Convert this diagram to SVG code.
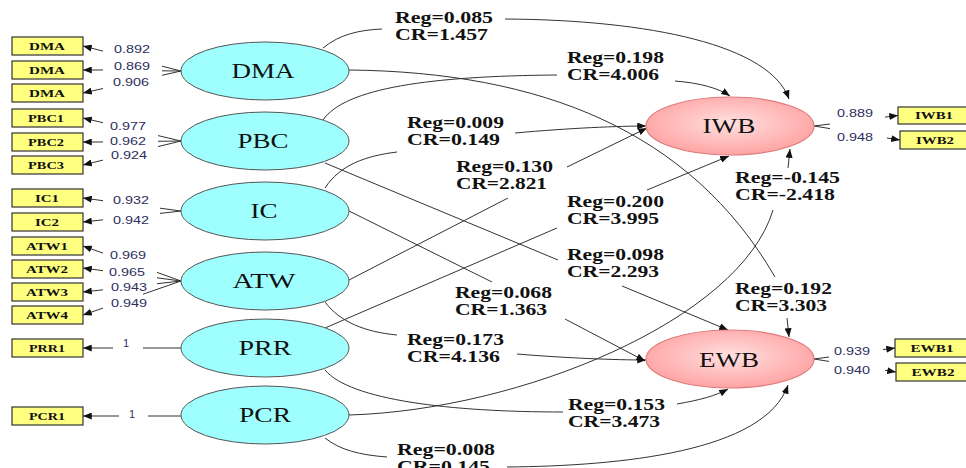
<svg xmlns="http://www.w3.org/2000/svg" width="966" height="468" viewBox="0 0 966 468">
<defs>
<marker id="ah" viewBox="0 0 10 8" refX="10" refY="4" markerWidth="9" markerHeight="7" markerUnits="userSpaceOnUse" orient="auto"><path d="M0,0 L10,4 L0,8 Z" fill="#111"/></marker>
<radialGradient id="pink" cx="50%" cy="45%" r="60%"><stop offset="0" stop-color="#FFE0E0"/><stop offset="1" stop-color="#FF9E9E"/></radialGradient>
</defs>
<style>
.lat{fill:#9FFFFF;stroke:#555;stroke-width:1}
.end{fill:url(#pink);stroke:#E07A7A;stroke-width:1.2}
.lt{font-family:"Liberation Serif","Times New Roman",serif;font-size:21px;fill:#111;text-anchor:middle}
.box{fill:#FFFF80;stroke:#333;stroke-width:1.2}
.bt{font-family:"Liberation Serif","Times New Roman",serif;font-weight:bold;font-size:10.5px;fill:#111;text-anchor:middle}
.ld{font-family:"Liberation Sans",Arial,sans-serif;font-size:11px;fill:#2E2E5E}
.rg{font-family:"Liberation Serif","Times New Roman",serif;font-weight:bold;font-size:16px;fill:#111}
.c{fill:none;stroke:#333;stroke-width:1}
.a{marker-end:url(#ah)}
</style>
<rect width="966" height="468" fill="#fff"/>

<g id="connectors">
<!-- measurement lines, left -->
<path class="c a" d="M103,51.1 L83,46"/><path class="c" d="M162,66.2 L181,71"/>
<path class="c a" d="M103,70 L83,70"/><path class="c" d="M162,70.8 L181,71"/>
<path class="c a" d="M103,88.5 L83,93"/><path class="c" d="M162,75.3 L181,71"/>
<path class="c a" d="M103,122.7 L83,118"/><path class="c" d="M158,135.6 L181,141"/>
<path class="c a" d="M103,142 L83,142"/><path class="c" d="M158,141.3 L181,141"/>
<path class="c a" d="M103,160.1 L83,165"/><path class="c" d="M158,146.6 L181,141"/>
<path class="c a" d="M103,200.7 L83,198"/><path class="c" d="M160,208.2 L181,211"/>
<path class="c a" d="M103,219.8 L83,222"/><path class="c" d="M160,213.4 L181,211"/>
<path class="c a" d="M103,253.1 L83,246"/><path class="c" d="M157,272.4 L181,281"/>
<path class="c a" d="M103,270.7 L83,268"/><path class="c" d="M157,277.8 L181,281"/>
<path class="c a" d="M103,289.8 L83,292"/><path class="c" d="M157,283.7 L181,281"/>
<path class="c a" d="M103,308.1 L83,315"/><path class="c" d="M143,294.2 L181,281"/>
<path class="c a" d="M113,348 L83,348"/><path class="c" d="M143,348 L181,348"/>
<path class="c a" d="M119,416 L83,416"/><path class="c" d="M148,416 L181,416"/>
<!-- measurement lines, right -->
<path class="c" d="M814,126 L830,124"/><path class="c a" d="M885,117.1 L898,115.5"/>
<path class="c" d="M814,126 L830,128.6"/><path class="c a" d="M887,138 L900,140"/>
<path class="c" d="M814,359 L829,357"/><path class="c a" d="M883,349.6 L895,348"/>
<path class="c" d="M814,359 L829,361.4"/><path class="c a" d="M885,370.3 L896,372"/>
<!-- structural paths -->
<path class="c" d="M323,48 C340,34 360,30 382,29"/><path class="c a" d="M505,19 C650,20 770,45 789,99"/>
<path class="c" d="M349,70 C540,72 690,130 775,277"/><path class="c a" d="M787,318 L789,337"/>
<path class="c" d="M323,120 C345,88 430,76 557,75"/><path class="c a" d="M675,81 C700,83 718,88 730,96"/>
<path class="c" d="M325,163 L558,260"/><path class="c a" d="M622,286 L728,330"/>
<path class="c" d="M325,188 C340,165 365,156 397,152"/><path class="c a" d="M515,133 C570,128 620,126 646,126"/>
<path class="c" d="M349,211 L492,282"/><path class="c a" d="M565,319 L645,361"/>
<path class="c" d="M349,280 L508,198"/><path class="c a" d="M567,167 L647,128"/>
<path class="c" d="M325,302 C340,322 365,332 397,335"/><path class="c a" d="M517,354 C565,358 615,360 646,360"/>
<path class="c" d="M325,328 L557,228"/><path class="c a" d="M647,190 L729,156"/>
<path class="c" d="M325,370 C350,400 450,412 563,412"/><path class="c a" d="M677,404 C700,400 715,396 728,389"/>
<path class="c" d="M349,415 C520,410 740,320 773,210"/><path class="c a" d="M788,168 L790,149"/>
<path class="c" d="M325,438 C340,450 360,455 387,457"/><path class="c a" d="M507,467 C620,466 765,452 788,385"/>
</g>

<g id="loadings">
<text class="ld" x="114" y="53" textLength="36" lengthAdjust="spacingAndGlyphs">0.892</text>
<text class="ld" x="114" y="70" textLength="36" lengthAdjust="spacingAndGlyphs">0.869</text>
<text class="ld" x="113" y="86" textLength="36" lengthAdjust="spacingAndGlyphs">0.906</text>
<text class="ld" x="110" y="130" textLength="36" lengthAdjust="spacingAndGlyphs">0.977</text>
<text class="ld" x="110" y="145" textLength="36" lengthAdjust="spacingAndGlyphs">0.962</text>
<text class="ld" x="111" y="159" textLength="36" lengthAdjust="spacingAndGlyphs">0.924</text>
<text class="ld" x="113" y="204" textLength="36" lengthAdjust="spacingAndGlyphs">0.932</text>
<text class="ld" x="113" y="224" textLength="36" lengthAdjust="spacingAndGlyphs">0.942</text>
<text class="ld" x="110" y="259" textLength="36" lengthAdjust="spacingAndGlyphs">0.969</text>
<text class="ld" x="109" y="276" textLength="36" lengthAdjust="spacingAndGlyphs">0.965</text>
<text class="ld" x="111" y="291" textLength="36" lengthAdjust="spacingAndGlyphs">0.943</text>
<text class="ld" x="111" y="307" textLength="36" lengthAdjust="spacingAndGlyphs">0.949</text>
<text class="ld" x="123" y="347">1</text>
<text class="ld" x="129" y="418">1</text>
<text class="ld" x="837" y="117" textLength="36" lengthAdjust="spacingAndGlyphs">0.889</text>
<text class="ld" x="837" y="141" textLength="36" lengthAdjust="spacingAndGlyphs">0.948</text>
<text class="ld" x="834" y="355" textLength="36" lengthAdjust="spacingAndGlyphs">0.939</text>
<text class="ld" x="834" y="374" textLength="36" lengthAdjust="spacingAndGlyphs">0.940</text>
</g>

<g id="edge-labels">
<text class="rg" x="395" y="23" textLength="98" lengthAdjust="spacingAndGlyphs">Reg=0.085</text>
<text class="rg" x="395" y="40" textLength="93" lengthAdjust="spacingAndGlyphs">CR=1.457</text>
<text class="rg" x="567" y="63" textLength="97" lengthAdjust="spacingAndGlyphs">Reg=0.198</text>
<text class="rg" x="567" y="80" textLength="92" lengthAdjust="spacingAndGlyphs">CR=4.006</text>
<text class="rg" x="407" y="128" textLength="97" lengthAdjust="spacingAndGlyphs">Reg=0.009</text>
<text class="rg" x="407" y="145" textLength="93" lengthAdjust="spacingAndGlyphs">CR=0.149</text>
<text class="rg" x="456" y="172" textLength="97" lengthAdjust="spacingAndGlyphs">Reg=0.130</text>
<text class="rg" x="456" y="189" textLength="91" lengthAdjust="spacingAndGlyphs">CR=2.821</text>
<text class="rg" x="567" y="207" textLength="97" lengthAdjust="spacingAndGlyphs">Reg=0.200</text>
<text class="rg" x="567" y="224" textLength="92" lengthAdjust="spacingAndGlyphs">CR=3.995</text>
<text class="rg" x="567" y="260" textLength="97" lengthAdjust="spacingAndGlyphs">Reg=0.098</text>
<text class="rg" x="567" y="277" textLength="92" lengthAdjust="spacingAndGlyphs">CR=2.293</text>
<text class="rg" x="455" y="298" textLength="97" lengthAdjust="spacingAndGlyphs">Reg=0.068</text>
<text class="rg" x="455" y="315" textLength="92" lengthAdjust="spacingAndGlyphs">CR=1.363</text>
<text class="rg" x="407" y="345" textLength="97" lengthAdjust="spacingAndGlyphs">Reg=0.173</text>
<text class="rg" x="407" y="362" textLength="93" lengthAdjust="spacingAndGlyphs">CR=4.136</text>
<text class="rg" x="568" y="410" textLength="97" lengthAdjust="spacingAndGlyphs">Reg=0.153</text>
<text class="rg" x="568" y="427" textLength="92" lengthAdjust="spacingAndGlyphs">CR=3.473</text>
<text class="rg" x="397" y="455" textLength="98" lengthAdjust="spacingAndGlyphs">Reg=0.008</text>
<text class="rg" x="397" y="472" textLength="93" lengthAdjust="spacingAndGlyphs">CR=0.145</text>
<text class="rg" x="735" y="183" textLength="105" lengthAdjust="spacingAndGlyphs">Reg=-0.145</text>
<text class="rg" x="735" y="200" textLength="100" lengthAdjust="spacingAndGlyphs">CR=-2.418</text>
<text class="rg" x="735" y="294" textLength="97" lengthAdjust="spacingAndGlyphs">Reg=0.192</text>
<text class="rg" x="735" y="311" textLength="92" lengthAdjust="spacingAndGlyphs">CR=3.303</text>
</g>

<g id="DMA"><ellipse class="lat" cx="265" cy="71" rx="84" ry="29"/><text class="lt" x="263" y="78" textLength="63" lengthAdjust="spacingAndGlyphs">DMA</text></g>
<g id="PBC"><ellipse class="lat" cx="265" cy="141" rx="84" ry="29"/><text class="lt" x="263" y="148" textLength="51" lengthAdjust="spacingAndGlyphs">PBC</text></g>
<g id="IC"><ellipse class="lat" cx="265" cy="211" rx="84" ry="29"/><text class="lt" x="264" y="218" textLength="27" lengthAdjust="spacingAndGlyphs">IC</text></g>
<g id="ATW"><ellipse class="lat" cx="265" cy="281" rx="84" ry="29"/><text class="lt" x="264" y="288" textLength="63" lengthAdjust="spacingAndGlyphs">ATW</text></g>
<g id="PRR"><ellipse class="lat" cx="265" cy="348" rx="84" ry="29"/><text class="lt" x="265" y="355" textLength="53" lengthAdjust="spacingAndGlyphs">PRR</text></g>
<g id="PCR"><ellipse class="lat" cx="265" cy="415" rx="84" ry="29"/><text class="lt" x="265" y="422" textLength="52" lengthAdjust="spacingAndGlyphs">PCR</text></g>
<g id="IWB"><ellipse class="end" cx="730" cy="126" rx="84" ry="29"/><text class="lt" x="729" y="133" textLength="53" lengthAdjust="spacingAndGlyphs">IWB</text></g>
<g id="EWB"><ellipse class="end" cx="730" cy="359" rx="84" ry="29"/><text class="lt" x="729" y="367" textLength="60" lengthAdjust="spacingAndGlyphs">EWB</text></g>

<g id="DMA1"><rect class="box" x="12" y="37" width="71" height="18"/><text class="bt" x="47" y="50" textLength="36" lengthAdjust="spacingAndGlyphs">DMA</text></g>
<g id="DMA2"><rect class="box" x="12" y="61" width="71" height="18"/><text class="bt" x="47" y="74" textLength="36" lengthAdjust="spacingAndGlyphs">DMA</text></g>
<g id="DMA3"><rect class="box" x="12" y="84" width="71" height="18"/><text class="bt" x="47" y="97" textLength="36" lengthAdjust="spacingAndGlyphs">DMA</text></g>
<g id="PBC1"><rect class="box" x="12" y="109" width="71" height="18"/><text class="bt" x="46" y="122" textLength="36" lengthAdjust="spacingAndGlyphs">PBC1</text></g>
<g id="PBC2"><rect class="box" x="12" y="133" width="71" height="18"/><text class="bt" x="46" y="146" textLength="36" lengthAdjust="spacingAndGlyphs">PBC2</text></g>
<g id="PBC3"><rect class="box" x="12" y="156" width="71" height="18"/><text class="bt" x="46" y="169" textLength="36" lengthAdjust="spacingAndGlyphs">PBC3</text></g>
<g id="IC1"><rect class="box" x="12" y="189" width="71" height="18"/><text class="bt" x="47" y="202" textLength="24" lengthAdjust="spacingAndGlyphs">IC1</text></g>
<g id="IC2"><rect class="box" x="12" y="213" width="71" height="18"/><text class="bt" x="47" y="226" textLength="24" lengthAdjust="spacingAndGlyphs">IC2</text></g>
<g id="ATW1"><rect class="box" x="12" y="237" width="71" height="18"/><text class="bt" x="47" y="250" textLength="42" lengthAdjust="spacingAndGlyphs">ATW1</text></g>
<g id="ATW2"><rect class="box" x="12" y="260" width="71" height="18"/><text class="bt" x="47" y="273" textLength="42" lengthAdjust="spacingAndGlyphs">ATW2</text></g>
<g id="ATW3"><rect class="box" x="12" y="283" width="71" height="18"/><text class="bt" x="47" y="296" textLength="42" lengthAdjust="spacingAndGlyphs">ATW3</text></g>
<g id="ATW4"><rect class="box" x="12" y="306" width="71" height="18"/><text class="bt" x="47" y="319" textLength="42" lengthAdjust="spacingAndGlyphs">ATW4</text></g>
<g id="PRR1"><rect class="box" x="12" y="339" width="71" height="18"/><text class="bt" x="47" y="352" textLength="36" lengthAdjust="spacingAndGlyphs">PRR1</text></g>
<g id="PCR1"><rect class="box" x="12" y="407" width="71" height="18"/><text class="bt" x="47" y="420" textLength="36" lengthAdjust="spacingAndGlyphs">PCR1</text></g>
<g id="IWB1"><rect class="box" x="898" y="107" width="80" height="17"/><text class="bt" x="934" y="119" textLength="38" lengthAdjust="spacingAndGlyphs">IWB1</text></g>
<g id="IWB2"><rect class="box" x="900" y="131" width="80" height="18"/><text class="bt" x="935" y="144" textLength="38" lengthAdjust="spacingAndGlyphs">IWB2</text></g>
<g id="EWB1"><rect class="box" x="895" y="339" width="80" height="18"/><text class="bt" x="932" y="352" textLength="43" lengthAdjust="spacingAndGlyphs">EWB1</text></g>
<g id="EWB2"><rect class="box" x="896" y="363" width="80" height="18"/><text class="bt" x="933" y="376" textLength="43" lengthAdjust="spacingAndGlyphs">EWB2</text></g>
</svg>
